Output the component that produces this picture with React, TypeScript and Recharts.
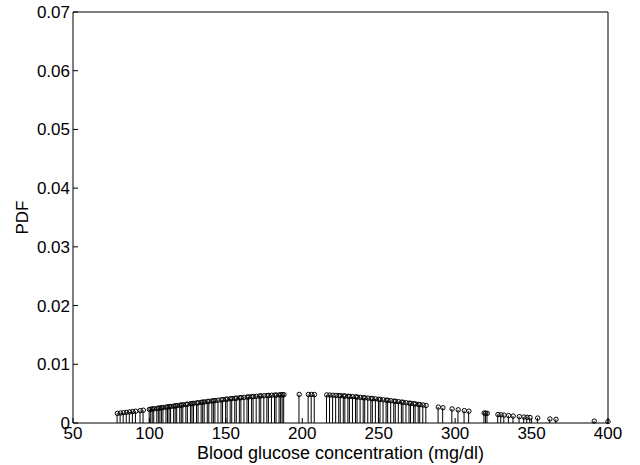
import React from 'react';
import { ComposedChart, Bar, Scatter, XAxis, YAxis } from 'recharts';

// glucose readings (mg/dl) and the fitted normal density at each one
const glucose = [
  79, 81, 83, 85, 87, 89, 91, 94, 96,
  100, 101, 102, 103, 105, 106, 107, 108, 109, 111, 112, 113, 114, 116, 117, 118,
  120, 121, 122, 124, 125, 127, 128, 129, 131, 132, 134, 135, 136, 138, 139,
  141, 142, 143, 145, 147, 148, 150, 151, 153, 154, 156, 157, 159, 160,
  162, 164, 165, 167, 168, 170, 172, 173, 175, 177, 178, 180, 182, 183, 185, 186, 187, 188,
  198, 204, 206, 208, 216, 218, 220,
  222, 224, 225, 227, 228, 230, 231, 233, 235, 236, 238, 240, 241, 243, 245, 246, 248,
  250, 251, 253, 255, 256, 258, 260, 261, 263, 265, 266, 268, 270, 271, 273, 274, 276, 277, 279, 281,
  289, 292, 298, 302, 306, 309, 319, 320, 321, 328, 330, 332, 335, 338, 342, 345, 347, 349,
  354, 362, 366, 391, 400,
];

const pdf = [
  0.00164, 0.0017, 0.00176, 0.00182, 0.00188, 0.00195, 0.00201, 0.00211, 0.00218,
  0.00232, 0.00235, 0.00239, 0.00242, 0.00249, 0.00253, 0.00256, 0.0026, 0.00263, 0.00271, 0.00274, 0.00278, 0.00281, 0.00288, 0.00292, 0.00296,
  0.00303, 0.00306, 0.0031, 0.00317, 0.00321, 0.00328, 0.00331, 0.00335, 0.00342, 0.00345, 0.00352, 0.00356, 0.00359, 0.00366, 0.00369,
  0.00376, 0.00379, 0.00382, 0.00389, 0.00395, 0.00398, 0.00404, 0.00407, 0.00413, 0.00416, 0.00421, 0.00424, 0.00429, 0.00432,
  0.00437, 0.00442, 0.00445, 0.00449, 0.00451, 0.00455, 0.0046, 0.00462, 0.00465, 0.00468, 0.0047, 0.00473, 0.00475, 0.00476, 0.00479, 0.0048, 0.00481, 0.00482,
  0.00487, 0.00486, 0.00486, 0.00485, 0.00478, 0.00476, 0.00473,
  0.0047, 0.00467, 0.00465, 0.00462, 0.0046, 0.00455, 0.00453, 0.00449, 0.00445, 0.00442, 0.00437, 0.00432, 0.00429, 0.00424, 0.00419, 0.00416, 0.0041,
  0.00404, 0.00401, 0.00395, 0.00389, 0.00386, 0.00379, 0.00373, 0.00369, 0.00363, 0.00356, 0.00352, 0.00345, 0.00338, 0.00335, 0.00328, 0.00324, 0.00317, 0.00313, 0.00306, 0.00299,
  0.00271, 0.0026, 0.00239, 0.00225, 0.00211, 0.00201, 0.0017, 0.00167, 0.00164, 0.00144, 0.00139, 0.00134, 0.00126, 0.00118, 0.00109, 0.00102, 0.00097, 0.00093,
  0.00084, 0.00069, 0.00063, 0.00032, 0.00025,
];

const xTicks = [50, 100, 150, 200, 250, 300, 350, 400];
const yTicks = [0, 0.01, 0.02, 0.03, 0.04, 0.05, 0.06, 0.07];

const data = glucose.map((g, i) => ({ glucose: g, pdf: pdf[i] }));

const FONT = 'Arial, "Liberation Sans", Helvetica, sans-serif';
const tickStyle = { fill: '#000', fontSize: 17 };
const line = { stroke: '#000', strokeWidth: 1 };

// open circle on top of each stem
const StemHead = (props: any) => (
  <circle cx={props.cx} cy={props.cy} r={2.2} fill="none" stroke="#000" strokeWidth={1} />
);

export default function App() {
  return (
    <div style={{ position: 'absolute', left: 0, top: 0, width: 640, height: 465, background: '#fff' }}>
      <ComposedChart
        width={640}
        height={465}
        data={data}
        margin={{ top: 11, right: 31, bottom: 0, left: 0 }}
        style={{ fontFamily: FONT }}
      >
        <XAxis
          dataKey="glucose"
          type="number"
          domain={[50, 400]}
          ticks={xTicks}
          interval={0}
          height={42}
          tickSize={-5}
          tickMargin={9}
          tick={tickStyle}
          axisLine={line}
          tickLine={line}
          label={{ value: 'Blood glucose concentration (mg/dl)', position: 'insideBottom', offset: 6, fill: '#000', fontSize: 18 }}
        />
        {/* top and right axes close the box, ticks pointing inward */}
        <XAxis
          xAxisId="top"
          dataKey="glucose"
          orientation="top"
          type="number"
          domain={[50, 400]}
          ticks={xTicks}
          interval={0}
          height={1}
          tickSize={-5}
          tick={false}
          axisLine={line}
          tickLine={line}
        />
        <YAxis
          type="number"
          domain={[0, 0.07]}
          ticks={yTicks}
          interval={0}
          width={73}
          tickSize={-5}
          tickMargin={8}
          tick={tickStyle}
          axisLine={line}
          tickLine={line}
          label={{ value: 'PDF', angle: -90, position: 'insideLeft', offset: 22, fill: '#000', fontSize: 17, style: { textAnchor: 'middle' } }}
        />
        <YAxis
          yAxisId="right"
          orientation="right"
          type="number"
          domain={[0, 0.07]}
          ticks={yTicks}
          interval={0}
          width={1}
          tickSize={-5}
          tick={false}
          axisLine={line}
          tickLine={line}
        />
        <Bar xAxisId="top" yAxisId="right" dataKey="pdf" barSize={1} fill="#000" isAnimationActive={false} />
        <Scatter dataKey="pdf" shape={StemHead} isAnimationActive={false} />
      </ComposedChart>
    </div>
  );
}
